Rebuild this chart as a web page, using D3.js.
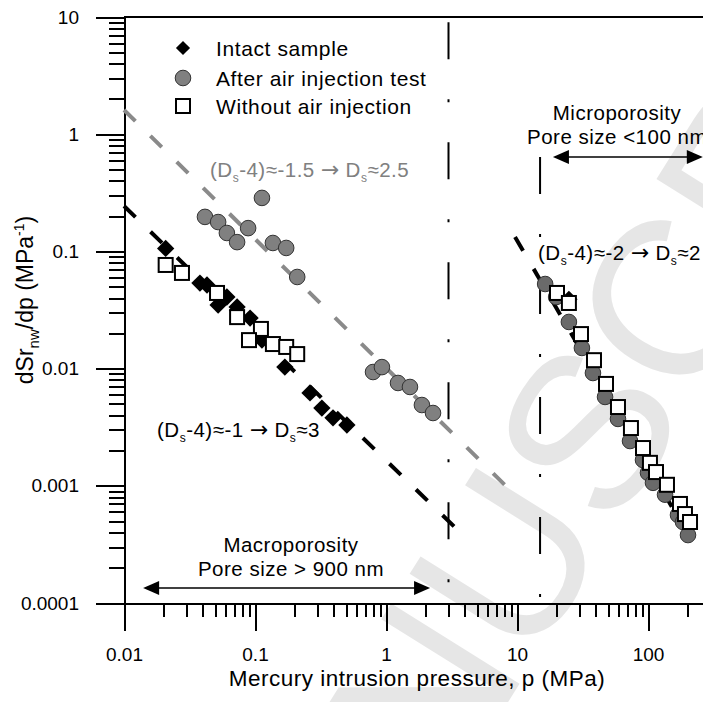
<!DOCTYPE html>
<html>
<head>
<meta charset="utf-8">
<script src="https://cdn.jsdelivr.net/npm/d3@7"></script>
<style>
  body { margin: 0; background: #fff; }
  svg { display: block; font-family: "Liberation Sans", Arial, sans-serif; }
</style>
</head>
<body>
<svg id="chart" width="703" height="702"></svg>
<script>
// Values: pressure p (MPa) and dSr_nw/dp (1/MPa).
var intactP = [0.0208, 0.038, 0.043, 0.0523, 0.061, 0.073, 0.0917, 0.113, 0.169, 0.263, 0.324, 0.394, 0.503, 24.9];
var intactV = [0.106, 0.0537, 0.0517, 0.0349, 0.0408, 0.0336, 0.027, 0.0175, 0.0103, 0.0062, 0.0046, 0.0038, 0.0033, 0.039];

var airMacroP = [0.0415, 0.0523, 0.061, 0.073, 0.0886, 0.113, 0.137, 0.173, 0.21, 0.796, 0.931, 1.235, 1.524, 1.88, 2.285];
var airMacroV = [0.197, 0.178, 0.1436, 0.120, 0.158, 0.286, 0.118, 0.107, 0.0605, 0.00935, 0.0103, 0.00754, 0.00697, 0.00489, 0.00418];

var airMicroP = [16.4, 19.9, 24.9, 31.3, 38.0, 47.0, 59.0, 72.9, 91.6, 100, 109.2, 134.9, 169.4, 185, 202];
var airMicroV = [0.0527, 0.0408, 0.025, 0.015, 0.00917, 0.00573, 0.00372, 0.00241, 0.00166, 0.00129, 0.00106, 0.00084, 0.000564, 0.000491, 0.00038];

var withoutP = [0.0208, 0.0277, 0.0513, 0.073, 0.111, 0.090, 0.137, 0.173, 0.21,
                20.2, 24.9, 30.8, 38.7, 47.8, 59.0, 74.1, 91.6, 103.5, 115.1, 139.6, 175.4, 191.5, 209.3];
var withoutV = [0.0766, 0.0655, 0.0442, 0.0275, 0.0218, 0.0175, 0.0162, 0.0153, 0.0133,
                0.0442, 0.0363, 0.0197, 0.0118, 0.0074, 0.0047, 0.00311, 0.0021, 0.00157, 0.00131, 0.00102, 0.0007, 0.000574, 0.000491];

// Fitted power-law lines (end points).
var fitIntactP = [0.01, 4.0],   fitIntactV = [0.244, 0.000366];
var fitAirP = [0.01, 9.12],     fitAirV = [1.61, 0.00089];
var fitMicroP = [9.66, 236.6],  fitMicroV = [0.133, 0.000283];

// Pore-class boundaries (MPa) and the top of each boundary line.
var boundaryP = [3, 15];
var boundaryTop = [9, 0.64];

// Range arrows (MPa).
var macroArrow = [0.014, 2.17];
var microArrow = [18.8, 262];

var xMajor = [0.01, 0.1, 1, 10, 100];
var xLabels = ['0.01', '0.1', '1', '10', '100'];
var yMajor = [0.0001, 0.001, 0.01, 0.1, 1, 10];
var yLabels = ['0.0001', '0.001', '0.01', '0.1', '1', '10'];

var legendNames = ['Intact sample', 'After air injection test', 'Without air injection'];

function Zip(ps, vs) {
  return ps.map(function(p, i) { return { p: p, v: vs[i] }; });
}

var svg = d3.select('#chart');

// Scales: 131 px per decade on x, 117.2 px per decade on y.
var x = d3.scaleLog().domain([0.01, 1000]).range([124, 779]);
var y = d3.scaleLog().domain([0.0001, 10]).range([603, 17]);

// Watermark.
svg.append('text')
  .attr('transform', 'translate(270,1083) rotate(-58)')
  .attr('font-size', 220)
  .attr('fill', '#e6e6e6')
  .text('MANUSCRIPT');

// Axes.
function IsMajor(v) {
  return xMajor.concat(yMajor).some(function(m) { return Math.abs(v / m - 1) < 1e-6; });
}

var xAxis = svg.append('g').attr('transform', 'translate(0,603)');
xAxis.call(d3.axisBottom(x).tickValues(xMajor).tickSize(28).tickSizeOuter(0)
  .tickPadding(17).tickFormat(function(d, i) { return xLabels[i]; }));
xAxis.append('g').call(d3.axisBottom(x).tickValues(x.ticks().filter(function(v) { return !IsMajor(v); }))
  .tickSize(14).tickFormat(''))
  .select('.domain').remove();

var yAxis = svg.append('g').attr('transform', 'translate(124,0)');
yAxis.call(d3.axisLeft(y).tickValues(yMajor).tickSize(28).tickSizeOuter(0)
  .tickPadding(17).tickFormat(function(d, i) { return yLabels[i]; }));
yAxis.append('g').call(d3.axisLeft(y).tickValues(y.ticks().filter(function(v) { return !IsMajor(v); }))
  .tickSize(15).tickFormat(''))
  .select('.domain').remove();

svg.selectAll('.domain, .tick line')
  .attr('stroke', '#000').attr('stroke-width', 2).attr('shape-rendering', 'crispEdges');
svg.selectAll('.tick text')
  .attr('font-size', 19).attr('font-family', '"Liberation Sans", Arial, sans-serif').attr('fill', '#000');

// Top frame line.
svg.append('line')
  .attr('x1', x(0.01)).attr('x2', x(1000))
  .attr('y1', y(10)).attr('y2', y(10))
  .attr('stroke', '#000').attr('stroke-width', 2).attr('shape-rendering', 'crispEdges');

// Axis titles.
svg.append('text')
  .attr('x', 417).attr('y', 686)
  .attr('text-anchor', 'middle')
  .attr('font-size', 22.5).attr('letter-spacing', 0.5)
  .text('Mercury intrusion pressure, p (MPa)');

var yTitle = svg.append('text')
  .attr('transform', 'translate(33,300) rotate(-90)')
  .attr('text-anchor', 'middle')
  .attr('font-size', 23);
yTitle.append('tspan').text('dSr');
yTitle.append('tspan').attr('font-size', 15).attr('dy', 6).text('nw');
yTitle.append('tspan').attr('dy', -6).text('/dp (MPa');
yTitle.append('tspan').attr('font-size', 14).attr('dy', -9).text('-1');
yTitle.append('tspan').attr('dy', 9).text(')');

// Pore-class boundary lines (dash-dot).
boundaryP.forEach(function(p, i) {
  svg.append('line')
    .attr('x1', x(p)).attr('x2', x(p))
    .attr('y1', y(boundaryTop[i])).attr('y2', y(0.0001))
    .attr('stroke', '#000').attr('stroke-width', 2)
    .attr('stroke-dasharray', '37,40,3,40');
});

// Fitted lines.
var line = d3.line().x(function(d) { return x(d.p); }).y(function(d) { return y(d.v); });
[[fitAirP, fitAirV, '#8a8a8a'], [fitIntactP, fitIntactV, '#000'], [fitMicroP, fitMicroV, '#000']]
  .forEach(function(f) {
    svg.append('path')
      .datum(Zip(f[0], f[1]))
      .attr('d', line)
      .attr('fill', 'none')
      .attr('stroke', f[2])
      .attr('stroke-width', 4)
      .attr('stroke-dasharray', '16,21');
  });

// Markers.
var diamond = d3.symbol().type(d3.symbolSquare).size(150);
function DrawCircles(data, fill) {
  svg.append('g').selectAll('circle')
    .data(data).enter().append('circle')
    .attr('cx', function(d) { return x(d.p); })
    .attr('cy', function(d) { return y(d.v); })
    .attr('r', 7.8)
    .attr('fill', fill)
    .attr('stroke', '#333')
    .attr('stroke-width', 1);
}
DrawCircles(Zip(airMacroP, airMacroV), '#808080');
DrawCircles(Zip(airMicroP, airMicroV), '#6a6a6a');

svg.append('g').selectAll('path')
  .data(Zip(intactP, intactV)).enter().append('path')
  .attr('d', diamond)
  .attr('transform', function(d) { return 'translate(' + x(d.p) + ',' + y(d.v) + ') rotate(45)'; })
  .attr('fill', '#000');

svg.append('g').selectAll('rect')
  .data(Zip(withoutP, withoutV)).enter().append('rect')
  .attr('x', function(d) { return x(d.p) - 7; })
  .attr('y', function(d) { return y(d.v) - 7; })
  .attr('width', 14).attr('height', 14)
  .attr('fill', '#fff')
  .attr('stroke', '#000')
  .attr('stroke-width', 2);

// Legend.
var legend = svg.append('g');
var rowY = [48, 78, 106];
legend.append('path').attr('d', d3.symbol().type(d3.symbolSquare).size(100))
  .attr('transform', 'translate(183,' + rowY[0] + ') rotate(45)').attr('fill', '#000');
legend.append('circle').attr('cx', 183).attr('cy', rowY[1]).attr('r', 7.8)
  .attr('fill', '#808080').attr('stroke', '#333');
legend.append('rect').attr('x', 176).attr('y', rowY[2] - 7).attr('width', 14).attr('height', 14)
  .attr('fill', '#fff').attr('stroke', '#000').attr('stroke-width', 2);
legend.selectAll('text').data(legendNames).enter().append('text')
  .attr('x', 216).attr('y', function(d, i) { return rowY[i]; })
  .attr('dy', '0.36em')
  .attr('font-size', 21).attr('letter-spacing', 0.6)
  .text(function(d) { return d; });

// Slope annotations with subscripts.
function SlopeLabel(px, py, slope, ds, color) {
  var t = svg.append('text').attr('x', px).attr('y', py)
    .attr('font-size', 20.5).attr('letter-spacing', 0.5).attr('fill', color);
  t.append('tspan').text('(D');
  t.append('tspan').attr('font-size', 12).attr('dy', 5).text('s');
  t.append('tspan').attr('dy', -5).text('-4)\u2248' + slope + ' ');
  t.append('tspan').attr('font-family', '"DejaVu Sans", sans-serif').attr('font-size', 22)
    .attr('letter-spacing', 0).text('\u2192');
  t.append('tspan').text(' D');
  t.append('tspan').attr('font-size', 12).attr('dy', 5).text('s');
  t.append('tspan').attr('dy', -5).text('\u2248' + ds);
}
SlopeLabel(210, 177, '-1.5', '2.5', '#808080');
SlopeLabel(157, 437, '-1', '3', '#000');
SlopeLabel(538, 260, '-2', '2', '#000');

// Pore-class labels and range arrows.
function RangeArrow(range, py) {
  var x1 = x(range[0]), x2 = x(range[1]);
  svg.append('line').attr('x1', x1 + 10).attr('x2', x2 - 10).attr('y1', py).attr('y2', py)
    .attr('stroke', '#000').attr('stroke-width', 1.5);
  svg.append('path').attr('d', 'M' + x1 + ',' + py + 'l16,-7v14z').attr('fill', '#000');
  svg.append('path').attr('d', 'M' + x2 + ',' + py + 'l-16,-7v14z').attr('fill', '#000');
}
RangeArrow(macroArrow, 588);
RangeArrow(microArrow, 157);

function ClassLabel(cx, lines, y0) {
  lines.forEach(function(s, i) {
    svg.append('text').attr('x', cx).attr('y', y0 + i * 24)
      .attr('text-anchor', 'middle')
      .attr('font-size', 20.5).attr('letter-spacing', 0.5)
      .text(s);
  });
}
ClassLabel(291, ['Macroporosity', 'Pore size > 900 nm'], 552);
ClassLabel(617, ['Microporosity', 'Pore size <100 nm'], 120);
</script>
</body>
</html>
